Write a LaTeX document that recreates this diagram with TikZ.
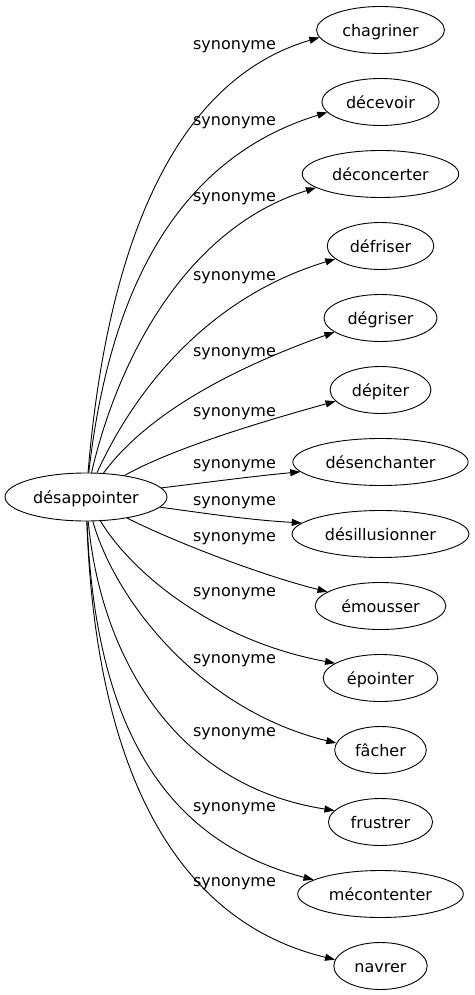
\documentclass[tikz,border=0pt]{standalone}
\usepackage{fontspec}
\setmainfont{DejaVu Sans}
\usetikzlibrary{shapes.geometric,arrows.meta}
\begin{document}
\begin{tikzpicture}[x=1pt,y=-1pt,
  syn/.style={ellipse,draw,line width=0.9pt,inner xsep=7pt,inner ysep=0pt,
    minimum height=47pt,font=\fontsize{16}{19}\selectfont,text height=14pt,text depth=1.5pt},
  lbl/.style={anchor=base,inner sep=0pt,font=\fontsize{16}{19}\selectfont},
  synedge/.style={line width=0.9pt,-{Triangle[length=10pt,width=7pt]}}]
\useasboundingbox (0,0) rectangle (474,995);
\node[syn,inner xsep=4.5pt,minimum height=48pt] (c) at (86,497) {désappointer};
\node[syn] (n1) at (380.5,30) {chagriner};
\node[syn] (n2) at (380.5,102) {décevoir};
\node[syn] (n3) at (380.5,174) {déconcerter};
\node[syn] (n4) at (380.5,246) {défriser};
\node[syn] (n5) at (380.5,318) {dégriser};
\node[syn] (n6) at (380.5,390) {dépiter};
\node[syn] (n7) at (380.5,462) {désenchanter};
\node[syn] (n8) at (380.5,534) {désillusionner};
\node[syn] (n9) at (380.5,606) {émousser};
\node[syn] (n10) at (380.5,678) {épointer};
\node[syn] (n11) at (380.5,750) {fâcher};
\node[syn] (n12) at (380.5,822) {frustrer};
\node[syn] (n13) at (380.5,894) {mécontenter};
\node[syn] (n14) at (380.5,966) {navrer};

\draw[synedge] (c) .. controls (100,330) and (140,90) .. (n1.187.5);
\draw[synedge] (c) .. controls (105,330) and (155,165) .. (n2.191);
\draw[synedge] (c) .. controls (115,370) and (180,230) .. (n3.192);
\draw[synedge] (c) .. controls (130,400) and (200,300) .. (n4.196);
\draw[synedge] (c) .. controls (135,430) and (200,380) .. (n5.197.5);
\draw[synedge] (c) .. controls (170,450) and (250,425) .. (n6.194);
\draw[synedge] (c) .. controls (210,482) and (255,476) .. (n7.187);
\draw[synedge] (c) .. controls (210,514) and (250,520) .. (n8.172.4);
\draw[synedge] (c) .. controls (170,540) and (260,575) .. (n9.165.3);
\draw[synedge] (c) .. controls (130,570) and (210,640) .. (n10.162.4);
\draw[synedge] (c) .. controls (115,600) and (200,710) .. (n11.171.6);
\draw[synedge] (c) .. controls (100,650) and (170,785) .. (n12.166);
\draw[synedge] (c) .. controls (95,720) and (160,840) .. (n13.168.8);
\draw[synedge] (c) .. controls (95,760) and (170,920) .. (n14.172.8);

\node[lbl] (l1) at (234.5,50) {synonyme};
\node[lbl] (l2) at (234.5,126) {synonyme};
\node[lbl] (l3) at (234.5,201) {synonyme};
\node[lbl] (l4) at (234.5,280) {synonyme};
\node[lbl] (l5) at (234.5,356) {synonyme};
\node[lbl] (l6) at (234.5,416) {synonyme};
\node[lbl] (l7) at (234.5,468) {synonyme};
\node[lbl] (l8) at (234.5,505) {synonyme};
\node[lbl] (l9) at (234.5,541) {synonyme};
\node[lbl] (l10) at (234.5,596) {synonyme};
\node[lbl] (l11) at (234.5,663) {synonyme};
\node[lbl] (l12) at (234.5,736) {synonyme};
\node[lbl] (l13) at (234.5,811) {synonyme};
\node[lbl] (l14) at (234.5,886) {synonyme};
\end{tikzpicture}
\end{document}
